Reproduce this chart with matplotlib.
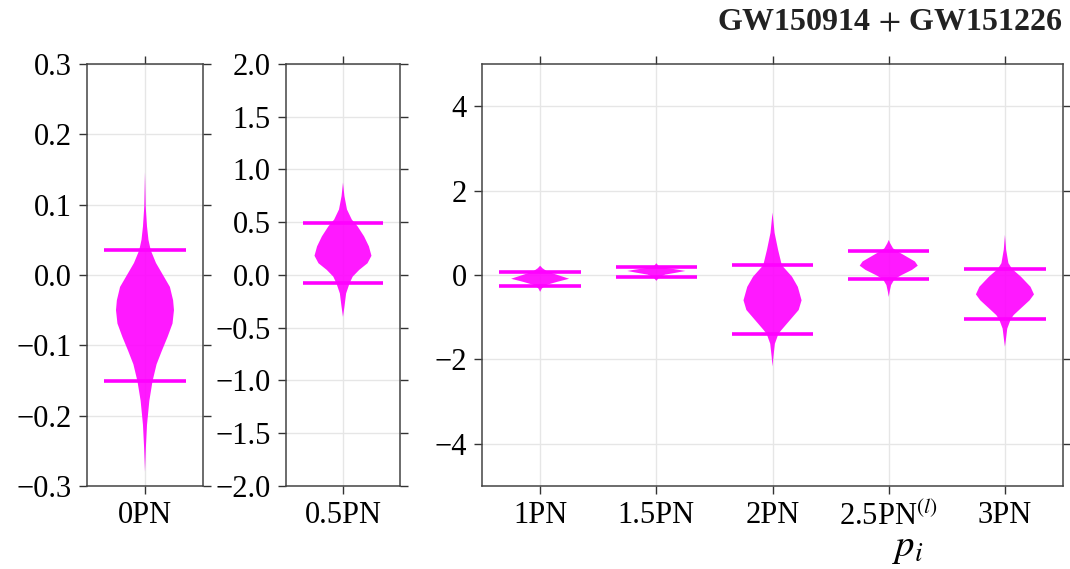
import numpy as np
import matplotlib
matplotlib.use("Agg")
from matplotlib import pyplot as plt
from matplotlib.ticker import FuncFormatter

plt.rcParams['font.family'] = ['Liberation Serif', 'DejaVu Serif']
plt.rcParams['mathtext.fontset'] = 'stix'
plt.rcParams['font.size'] = 22

MAGENTA = '#ff00ff'

# posterior profiles: (value, relative density) for each PN coefficient
y_0pn = [0.146, 0.098, 0.069, 0.050, 0.035, 0.017, 0.0, -0.017, -0.036, -0.050,
         -0.069, -0.088, -0.108, -0.127, -0.151, -0.179, -0.213, -0.246, -0.280]
w_0pn = [0.0, 0.024, 0.07, 0.12, 0.2, 0.38, 0.62, 0.86, 0.97, 1.0,
         0.95, 0.78, 0.58, 0.40, 0.26, 0.15, 0.07, 0.03, 0.0]

y_05pn = [0.876, 0.748, 0.621, 0.525, 0.462, 0.366, 0.271, 0.182, 0.111, 0.048,
          -0.016, -0.080, -0.175, -0.303, -0.398]
w_05pn = [0.0, 0.05, 0.14, 0.31, 0.51, 0.74, 0.91, 1.0, 0.86, 0.57,
          0.34, 0.23, 0.11, 0.05, 0.0]

y_1pn = [0.22, 0.16, 0.08, 0.0, -0.09, -0.16, -0.24, -0.32, -0.40]
w_1pn = [0.0, 0.08, 0.25, 0.6, 1.0, 0.6, 0.2, 0.06, 0.0]

y_15pn = [0.28, 0.21, 0.17, 0.13, 0.095, 0.056, 0.008, -0.056, -0.14]
w_15pn = [0.0, 0.08, 0.3, 0.7, 1.0, 0.7, 0.3, 0.1, 0.0]

y_2pn = [1.48, 1.0, 0.6, 0.23, -0.04, -0.28, -0.6, -0.83, -1.07, -1.31,
         -1.40, -1.63, -1.94, -2.17]
w_2pn = [0.0, 0.07, 0.19, 0.32, 0.67, 0.87, 1.0, 0.9, 0.6, 0.3,
         0.2, 0.08, 0.03, 0.0]

y_25pn = [0.83, 0.75, 0.63, 0.56, 0.44, 0.32, 0.22, 0.12, 0.0, -0.10,
          -0.24, -0.40, -0.52]
w_25pn = [0.0, 0.05, 0.15, 0.3, 0.6, 0.9, 1.0, 0.8, 0.45, 0.2,
          0.08, 0.03, 0.0]

y_3pn = [0.95, 0.6, 0.28, 0.14, -0.04, -0.28, -0.46, -0.6, -0.79, -0.95,
         -1.05, -1.27, -1.55, -1.7]
w_3pn = [0.0, 0.04, 0.12, 0.25, 0.55, 0.88, 1.0, 0.85, 0.55, 0.3,
         0.2, 0.08, 0.03, 0.0]

# 90% credible bounds
upper90 = [0.035, 0.497, 0.08, 0.18, 0.23, 0.56, 0.14]
lower90 = [-0.151, -0.080, -0.25, -0.056, -1.40, -0.10, -1.05]

labels = ['0PN', '0.5PN', '1PN', '1.5PN', '2PN', r'2.5PN$^{(l)}$', '3PN']
profiles = [(y_0pn, w_0pn), (y_05pn, w_05pn), (y_1pn, w_1pn), (y_15pn, w_15pn),
            (y_2pn, w_2pn), (y_25pn, w_25pn), (y_3pn, w_3pn)]


def stats(y, w):
    return {'coords': np.array(y), 'vals': np.array(w),
            'mean': 0.0, 'median': 0.0, 'min': min(y), 'max': max(y)}


def panel(ax, idx, ylim, ticks, fmt):
    pos = np.arange(1, len(idx) + 1)
    vp = ax.violin([stats(*profiles[i]) for i in idx], positions=pos, widths=0.5,
                   showextrema=False)
    for b in vp['bodies']:
        b.set_facecolor(MAGENTA)
        b.set_edgecolor('none')
        b.set_alpha(0.9)
    ax.hlines([upper90[i] for i in idx], pos - 0.35, pos + 0.35, color=MAGENTA, lw=2.6)
    ax.hlines([lower90[i] for i in idx], pos - 0.35, pos + 0.35, color=MAGENTA, lw=2.6)
    ax.set_xlim(0.5, len(idx) + 0.5)
    ax.set_ylim(*ylim)
    ax.set_xticks(pos)
    ax.set_xticklabels([labels[i] for i in idx])
    ax.set_yticks(ticks)
    ax.yaxis.set_major_formatter(FuncFormatter(lambda v, p: (fmt % v).replace('-', '\u2212')))
    ax.grid(True, color='#e6e6e6', lw=1.0)
    ax.set_axisbelow(True)
    ax.tick_params(direction='out', length=6, width=1.0, color='#333333',
                   top=True, right=True, pad=5)
    for s in ax.spines.values():
        s.set_color('#444444')
        s.set_linewidth(1.1)


fig = plt.figure(figsize=(10.7, 5.69), dpi=100)
ax1 = fig.add_axes([0.0813, 0.1459, 0.1084, 0.7417])
ax2 = fig.add_axes([0.2673, 0.1459, 0.1065, 0.7417])
ax3 = fig.add_axes([0.4505, 0.1459, 0.543, 0.7417])

panel(ax1, [0], (-0.3, 0.3), np.arange(-0.3, 0.31, 0.1), '%.1f')
panel(ax2, [1], (-2.0, 2.0), np.arange(-2.0, 2.01, 0.5), '%.1f')
panel(ax3, [2, 3, 4, 5, 6], (-5, 5), [-4, -2, 0, 2, 4], '%d')

fig.text(0.9935, 0.962, r'GW150914$\,+\,$GW151226', ha='right', va='center',
         fontsize=23, fontweight='bold', color='#222222')
fig.text(0.848, 0.005, r'$p_i$', ha='center', va='bottom', fontsize=28)

fig.savefig('out.png', dpi=100)
